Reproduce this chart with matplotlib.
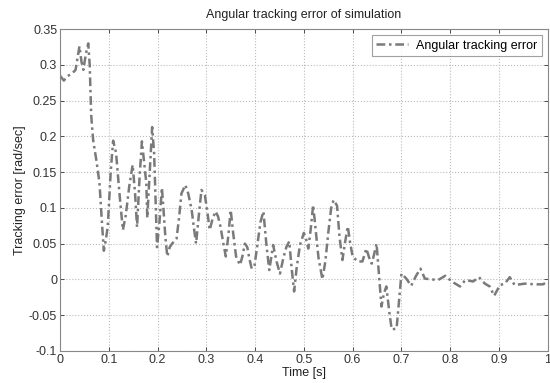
import matplotlib
matplotlib.use("Agg")
import matplotlib.pyplot as plt

# values
time_s = [0.000, 0.008, 0.015, 0.025, 0.032, 0.040, 0.044, 0.048, 0.053, 0.058,
          0.061, 0.064, 0.068, 0.075, 0.081, 0.086, 0.090, 0.094, 0.098, 0.104,
          0.109, 0.115, 0.122, 0.129, 0.135, 0.142, 0.149, 0.154, 0.158, 0.163,
          0.168, 0.173, 0.177, 0.179, 0.184, 0.189, 0.193, 0.196, 0.199, 0.204,
          0.209, 0.212, 0.216, 0.220, 0.225, 0.230, 0.239, 0.244, 0.249, 0.257,
          0.263, 0.270, 0.275, 0.279, 0.284, 0.290, 0.297, 0.302, 0.307, 0.313,
          0.319, 0.324, 0.329, 0.335, 0.340, 0.345, 0.350, 0.355, 0.361, 0.369,
          0.374, 0.379, 0.384, 0.388, 0.393, 0.399, 0.405, 0.411, 0.417, 0.423,
          0.429, 0.433, 0.437, 0.444, 0.451, 0.458, 0.464, 0.470, 0.475, 0.480,
          0.485, 0.492, 0.500, 0.505, 0.509, 0.514, 0.519, 0.524, 0.530, 0.538,
          0.544, 0.550, 0.556, 0.561, 0.568, 0.573, 0.579, 0.584, 0.590, 0.595,
          0.600, 0.610, 0.620, 0.628, 0.634, 0.639, 0.644, 0.649, 0.654, 0.659,
          0.664, 0.669, 0.675, 0.680, 0.690, 0.695, 0.700, 0.710, 0.720, 0.730,
          0.739, 0.748, 0.761, 0.775, 0.790, 0.803, 0.820, 0.831, 0.847, 0.859,
          0.871, 0.881, 0.890, 0.902, 0.912, 0.922, 0.932, 0.953, 0.973, 0.990,
          1.000]
error = [0.285, 0.278, 0.284, 0.288, 0.293, 0.326, 0.305, 0.293, 0.315, 0.330,
         0.300, 0.230, 0.195, 0.165, 0.135, 0.080, 0.040, 0.055, 0.074, 0.150,
         0.194, 0.177, 0.120, 0.069, 0.090, 0.130, 0.160, 0.120, 0.073, 0.140,
         0.193, 0.160, 0.135, 0.086, 0.150, 0.213, 0.177, 0.110, 0.045, 0.080,
         0.128, 0.100, 0.060, 0.032, 0.045, 0.050, 0.057, 0.085, 0.120, 0.132,
         0.120, 0.097, 0.070, 0.050, 0.085, 0.125, 0.118, 0.095, 0.069, 0.085,
         0.095, 0.088, 0.074, 0.050, 0.032, 0.060, 0.097, 0.065, 0.032, 0.020,
         0.032, 0.050, 0.045, 0.030, 0.015, 0.020, 0.050, 0.080, 0.095, 0.050,
         0.013, 0.030, 0.048, 0.025, 0.008, 0.030, 0.045, 0.053, 0.015, -0.017,
         0.015, 0.048, 0.065, 0.055, 0.043, 0.070, 0.104, 0.070, 0.030, 0.000,
         0.025, 0.065, 0.100, 0.111, 0.103, 0.060, 0.027, 0.050, 0.074, 0.050,
         0.032, 0.025, 0.025, 0.043, 0.030, 0.022, 0.035, 0.050, 0.005, -0.038,
         -0.020, -0.010, -0.045, -0.070, -0.069, -0.030, 0.008, 0.001, -0.009, 0.005,
         0.015, 0.001, 0.000, -0.001, 0.005, -0.003, -0.010, -0.001, -0.003, 0.003,
         -0.006, -0.010, -0.023, -0.008, -0.006, 0.003, -0.008, -0.006, -0.007, -0.007,
         -0.003]

x_ticks = [0, 0.1, 0.2, 0.3, 0.4, 0.5, 0.6, 0.7, 0.8, 0.9, 1]
x_labels = ["0", "0.1", "0.2", "0.3", "0.4", "0.5", "0.6", "0.7", "0.8", "0.9", "1"]
y_ticks = [-0.1, -0.05, 0, 0.05, 0.1, 0.15, 0.2, 0.25, 0.3, 0.35]
y_labels = ["-0.1", "-0.05", "0", "0.05", "0.1", "0.15", "0.2", "0.25", "0.3", "0.35"]

plt.rcParams["font.family"] = ["Liberation Sans", "DejaVu Sans"]
plt.rcParams["font.size"] = 9

fig = plt.figure(figsize=(5.5, 3.83), dpi=100)
ax = fig.add_axes([0.109, 0.084, 0.887, 0.840])

ax.plot(time_s, error, color="#7a7a7a", linewidth=1.8, dashes=(3.5, 1.5, 1, 1.5),
        label="Angular tracking error")

ax.set_xlim(0, 1)
ax.set_ylim(-0.1, 0.35)
ax.set_xticks(x_ticks)
ax.set_xticklabels(x_labels)
ax.set_yticks(y_ticks)
ax.set_yticklabels(y_labels)
ax.tick_params(direction="in", top=True, right=True, length=3, width=0.6,
               labelsize=9, pad=2, colors="#333333")
ax.grid(True, linestyle=":", color="#bbbbbb", linewidth=0.8)
for s in ax.spines.values():
    s.set_color("#888888")
    s.set_linewidth(0.8)

ax.set_xlabel("Time [s]", fontsize=9, labelpad=1, color="#222222")
ax.set_ylabel("Tracking error [rad/sec]", fontsize=9, labelpad=2, color="#222222")
ax.set_title("Angular tracking error of simulation", fontsize=9, pad=8, color="#222222")

leg = ax.legend(loc="upper right", fontsize=9, fancybox=False, borderpad=0.35,
                handlelength=2.6, handletextpad=0.6, borderaxespad=0.5)
leg.get_frame().set_edgecolor("#888888")
leg.get_frame().set_linewidth(0.8)

fig.savefig("out.png", dpi=100)
